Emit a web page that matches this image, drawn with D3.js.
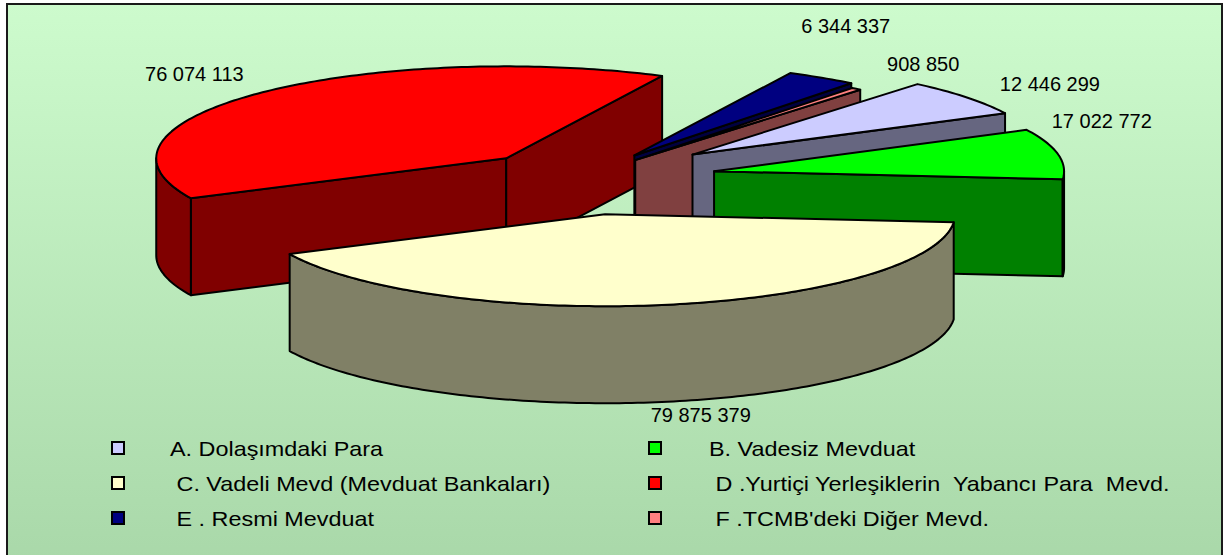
<!DOCTYPE html>
<html>
<head>
<meta charset="utf-8">
<script src="https://cdn.jsdelivr.net/npm/d3@7"></script>
<style>
    body { margin: 0; background: #ffffff; }
    text { font-family: "Liberation Sans", Arial, sans-serif; fill: #000; }
</style>
</head>
<body>
<script>
(function(){

    //chart data
    var categories = [
        "A. Dolaşımdaki Para",
        "B. Vadesiz Mevduat",
        " C. Vadeli Mevd (Mevduat Bankaları)",
        " D .Yurtiçi Yerleşiklerin  Yabancı Para  Mevd.",
        " E . Resmi Mevduat",
        " F .TCMB'deki Diğer Mevd."
    ];
    var values = [12446299, 17022772, 79875379, 76074113, 6344337, 908850];

    //slice styling
    var topColors = ["#CCCCFF", "#00FF00", "#FFFFCC", "#FF0000", "#000080", "#FF8080"];
    var sideColors = ["#666680", "#008000", "#808066", "#800000", "#000040", "#804040"];
    var explode = [0.41, 0.39, 0.40, 0.30, 0.29, 0.25]; //per slice explosion (share of radius)
    var labelNudge = [[83, -6], [44, -26], [33, 20], [-66, -12], [24, -45], [67, -18]];

    //frame dimensions
    var width = 1228,
        height = 555,
        cx = 580, cy = 178,  //pie centre
        rx = 350, ry = 92,   //ellipse radii of the top face
        depth = 97,          //thickness of the pie
        firstAngle = 40 * Math.PI / 180; //start of the first slice, clockwise from 12 o'clock

    var svg = d3.select("body")
        .append("svg")
        .attr("width", width)
        .attr("height", height);

    //background gradient
    var grad = svg.append("defs").append("linearGradient")
        .attr("id", "bg")
        .attr("x1", 0).attr("y1", 0).attr("x2", 0).attr("y2", 1);
    grad.append("stop").attr("offset", "0%").attr("stop-color", "#CDFBCD");
    grad.append("stop").attr("offset", "100%").attr("stop-color", "#A9D8A9");

    svg.append("rect")
        .attr("x", 7).attr("y", 4)
        .attr("width", 1215).attr("height", 560)
        .attr("fill", "url(#bg)")
        .attr("stroke", "#1a1a1a")
        .attr("stroke-width", 2);

    //scales from unit disc to screen
    var xScale = d3.scaleLinear().domain([-1, 1]).range([cx - rx, cx + rx]);
    var yScale = d3.scaleLinear().domain([-1, 1]).range([cy - ry, cy + ry]);

    var pie = d3.pie()
        .sort(null)
        .startAngle(firstAngle)
        .endAngle(firstAngle + 2 * Math.PI);

    var arcs = pie(values).map(function(d, i){
        var a0 = d.startAngle - Math.PI / 2,
            a1 = d.endAngle - Math.PI / 2,
            m = (a0 + a1) / 2;
        return {
            i: i, a0: a0, a1: a1, m: m,
            ox: explode[i] * Math.cos(m),
            oy: explode[i] * Math.sin(m)
        };
    });

    //screen point of a slice: angle t, radius r, on top or bottom face
    function pt(s, t, r, bottom){
        return [
            xScale(s.ox + r * Math.cos(t)),
            yScale(s.oy + r * Math.sin(t)) + (bottom ? depth : 0)
        ];
    }

    function rim(s, t0, t1, bottom){
        var n = Math.max(2, Math.ceil(Math.abs(t1 - t0) / (Math.PI / 180))),
            pts = [];
        for (var k = 0; k <= n; k++){
            pts.push(pt(s, t0 + (t1 - t0) * k / n, 1, bottom));
        }
        return pts;
    }

    var line = d3.line().curve(d3.curveLinearClosed);

    //painter order: slices nearest the back are drawn first
    function angDist(a, b){
        var d = Math.abs(a - b) % (2 * Math.PI);
        return d > Math.PI ? 2 * Math.PI - d : d;
    }
    var back = 3 * Math.PI / 2;
    arcs.forEach(function(s){
        var contains = (s.a0 <= back && s.a1 >= back) ||
                       (s.a0 <= back - 2 * Math.PI && s.a1 >= back - 2 * Math.PI);
        s.order = contains ? 0 : Math.min(angDist(s.a0, back), angDist(s.a1, back));
    });
    var drawOrder = arcs.slice().sort(function(a, b){ return a.order - b.order; });

    var pieG = svg.append("g");

    drawOrder.forEach(function(s){
        var g = pieG.append("g").attr("class", "slice");
        var faces = [];

        //radial faces that turn toward the viewer
        if (Math.cos(s.a0) < 0){
            faces.push([pt(s, s.a0, 0, false), pt(s, s.a0, 1, false), pt(s, s.a0, 1, true), pt(s, s.a0, 0, true)]);
        }
        if (Math.cos(s.a1) > 0){
            faces.push([pt(s, s.a1, 0, false), pt(s, s.a1, 1, false), pt(s, s.a1, 1, true), pt(s, s.a1, 0, true)]);
        }
        //front part of the outer wall
        var lo = Math.max(s.a0, 0), hi = Math.min(s.a1, Math.PI);
        if (hi > lo){
            faces.push(rim(s, lo, hi, false).concat(rim(s, hi, lo, true)));
        }

        faces.forEach(function(f){
            g.append("path")
                .attr("d", line(f))
                .attr("fill", sideColors[s.i])
                .attr("stroke", "#000")
                .attr("stroke-width", 2)
                .attr("stroke-linejoin", "round");
        });

        //top face
        g.append("path")
            .attr("d", line([pt(s, s.a0, 0, false)].concat(rim(s, s.a0, s.a1, false))))
            .attr("fill", topColors[s.i])
            .attr("stroke", "#000")
            .attr("stroke-width", 2)
            .attr("stroke-linejoin", "round");
    });

    //value labels
    var fmt = d3.formatLocale({ decimal: ",", thousands: " ", grouping: [3], currency: ["", ""] }).format(",d");

    svg.append("g").selectAll("text")
        .data(arcs)
        .enter()
        .append("text")
        .attr("x", function(s){ return pt(s, s.m, 1, Math.sin(s.m) > 0.5)[0] + labelNudge[s.i][0]; })
        .attr("y", function(s){ return pt(s, s.m, 1, Math.sin(s.m) > 0.5)[1] + labelNudge[s.i][1]; })
        .attr("text-anchor", "middle")
        .style("font-size", "20px")
        .text(function(s){ return fmt(values[s.i]); });

    //legend: two columns, three rows
    var legendX = [112, 649], textX = [170, 709], rowY = [456, 491, 526];

    var legend = svg.append("g").attr("class", "legend")
        .selectAll("g")
        .data(categories)
        .enter()
        .append("g");

    legend.append("rect")
        .attr("x", function(d, i){ return legendX[i % 2]; })
        .attr("y", function(d, i){ return rowY[Math.floor(i / 2)] - 14; })
        .attr("width", 12)
        .attr("height", 12)
        .attr("fill", function(d, i){ return topColors[i]; })
        .attr("stroke", "#000")
        .attr("stroke-width", 2);

    legend.append("text")
        .attr("transform", function(d, i){
            return "translate(" + textX[i % 2] + "," + rowY[Math.floor(i / 2)] + ") scale(1.17,1)";
        })
        .style("font-size", "20px")
        .style("white-space", "pre")
        .attr("xml:space", "preserve")
        .text(function(d){ return d; });

})();
</script>
</body>
</html>
